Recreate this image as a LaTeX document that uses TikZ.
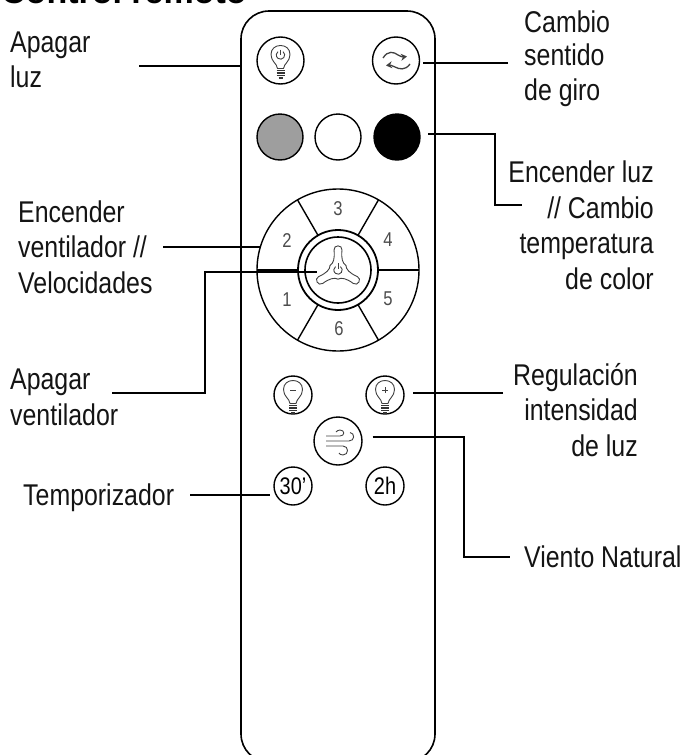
\documentclass[tikz,border=0pt]{standalone}
\usepackage{fontspec}
\usetikzlibrary{arrows.meta}
\setmainfont[FakeStretch=0.83]{Liberation Sans}
\newfontfamily\titlefont[BoldFont={Liberation Sans Bold}]{Liberation Sans}
\tikzset{
  btn/.style={circle, draw, line width=1.4pt, minimum size=#1, inner sep=0pt, outer sep=0pt},
  swatch/.style={btn=46pt},
  leader/.style={line width=2.4pt},
  lbl/.style={font=\fontsize{30}{35.5}\selectfont, inner sep=0pt, text=black!92},
  icon/.style={line width=0.9pt, draw=black!75},
  num/.style={font=\fontsize{20}{20}\selectfont, inner sep=0pt, text=black!70},
  timer/.style={btn=38pt, font=\fontsize{24}{24}\selectfont},
  pics/bulbicon/.style={code={
    \draw[icon] (-3,8) .. controls (-3.5,3) and (-9.5,1) .. (-9.5,-6)
      .. controls (-9.5,-12) and (-5,-15) .. (0,-15)
      .. controls (5,-15) and (9.5,-12) .. (9.5,-6)
      .. controls (9.5,1) and (3.5,3) .. (3,8) -- cycle;
    \foreach \ty in {10,12.5,15}
      \draw[line width=1.5pt, black!80] (-4,\ty) -- (4,\ty);
    \draw[line width=1.5pt, black!80] (-2,17.5) -- (2,17.5);
  }},
}
\begin{document}
\begin{tikzpicture}[x=1pt,y=-1pt]
\useasboundingbox (0,0) rectangle (683,755);
% title
\node[anchor=base west, inner sep=0pt, font=\titlefont\fontsize{34}{34}\selectfont\bfseries] (title) at (1,3.5) {Control remoto};
% body
\node[draw, line width=1.6pt, rounded corners=28pt, minimum width=194pt, minimum height=751pt, inner sep=0pt] (body) at (338,386.5) {};
% top buttons
\node[btn=47pt] (btnLuz) at (280.5,60.5) {};
\node[btn=47pt] (btnGiro) at (396,60.5) {};
\node[swatch, fill=black!38] (colGray) at (280,137) {};
\node[swatch] (colWhite) at (338,137) {};
\node[swatch, fill=black] (colBlack) at (397,137) {};
\begin{scope}[shift={(280.5,60.5)}, scale=0.9]
  \pic {bulbicon};
\end{scope}
\draw[icon] (280.5,55) ++(-52:4.2) arc (-52:232:4.2);
\draw[icon] (280.5,49.5) -- (280.5,55);
% giro arrows
\draw[icon, line width=1.3pt, -{Stealth[length=6pt,width=7pt]}] (383,58) .. controls (388,50) and (394,52) .. (398,55) .. controls (400,56.5) and (403,57) .. (407,56.5);
\draw[icon, line width=1.3pt, -{Stealth[length=6pt,width=7pt]}] (410,64) .. controls (405,71) and (399,69) .. (395,67) .. controls (393,66) and (390,65) .. (386,65.5);
% wheel
\node[btn=162pt] (wheelOuter) at (338,270) {};
\node[btn=80pt, line width=1.8pt] (wheelRing) at (338,270) {};
\node[btn=66pt, line width=1.6pt] (wheelInner) at (338,270) {};
\foreach \ang in {60,120,240,300}
  \draw[line width=1.4pt] (wheelRing.\ang) -- (wheelOuter.\ang);
\draw[line width=1.8pt] (wheelRing.0) -- (wheelOuter.0);
\draw[line width=1.4pt] (wheelRing.180) -- (wheelOuter.180);
\node[num] (n3) at (338,209) {3};
\node[num] (n4) at (388,240) {4};
\node[num] (n5) at (388,299) {5};
\node[num] (n6) at (339,329) {6};
\node[num] (n1) at (287,300) {1};
\node[num] (n2) at (287,241) {2};
% fan
\foreach \rot in {0,120,240}
  \draw[icon, rotate around={\rot:(338,270)}] (330,265.5)
    .. controls (333.5,263.5) and (335,258) .. (334,250)
    .. controls (333.5,244.5) and (342.5,244.5) .. (342,250)
    .. controls (341,258) and (342.5,263.5) .. (346,265.5);
\draw[icon] (338,270) ++(-55:4.2) arc (-55:235:4.2);
\draw[icon] (338,263) -- (338,269);
% lower buttons
\node[btn=38pt] (btnMenos) at (293,395) {};
\node[btn=38pt] (btnMas) at (385,395) {};
\node[btn=48pt] (btnViento) at (338,441) {};
\node[timer] (btn30) at (293,486) {30'};
\node[timer] (btn2h) at (385,486) {2h};
\begin{scope}[shift={(293,395.5)}, scale=0.83]
  \pic {bulbicon};
  \draw[icon] (-3.5,-6.5) -- (3.5,-6.5);
\end{scope}
\begin{scope}[shift={(385,395.5)}, scale=0.83]
  \pic {bulbicon};
  \draw[icon] (-3.5,-6.5) -- (3.5,-6.5);
  \draw[icon] (0,-10) -- (0,-3);
\end{scope}
% wind
\draw[icon] (326,436) -- (340,436) .. controls (345,436) and (345,430) .. (340,430) .. controls (338,430) and (337,431) .. (336,432);
\draw[icon] (326,441) -- (349,441) .. controls (355,441) and (355,433) .. (350,432.5);
\draw[icon] (326,446) -- (343,446) .. controls (349,446) and (349,455) .. (343,455) .. controls (341,455) and (339,454) .. (339,453);
% labels
\node[lbl, anchor=base west, align=left] (txtLuz) at (10,87) {Apagar\\[-1pt]luz};
\node[lbl, anchor=base west, align=left] (txtGiro) at (524,100) {Cambio\\[-2pt]sentido\\[-1pt]de giro};
\node[lbl, anchor=base east, align=right] (txtColor) at (654,289) {Encender luz\\// Cambio\\temperatura\\de color};
\node[lbl, anchor=base west, align=left] (txtVel) at (18,293) {Encender\\ventilador //\\Velocidades};
\node[lbl, anchor=base west, align=left] (txtOff) at (10,425) {Apagar\\ventilador};
\node[lbl, anchor=base east, align=right] (txtReg) at (638,456) {Regulación\\intensidad\\de luz};
\node[lbl, anchor=base west] (txtNat) at (524,567) {Viento Natural};
\node[lbl, anchor=base west] (txtTemp) at (23,505) {Temporizador};
% leaders
\coordinate (endLuz) at (139,66);
\coordinate (endGiro) at (508,63);
\coordinate (elbowColor) at (495,134);
\coordinate (endColor) at (522,205);
\coordinate (endVel) at (163,247);
\coordinate (endOff) at (112,393);
\coordinate (endFan) at (317,272);
\coordinate (endReg) at (503,393);
\coordinate (elbowNat) at (464,437);
\coordinate (endNat) at (510,557);
\coordinate (endTemp) at (190,495);
\draw[leader] (endLuz) -- (endLuz -| body.west);
\draw[leader] (endGiro) -- ([xshift=3.5pt]endGiro -| btnGiro.east);
\draw[leader] ([xshift=8pt]elbowColor -| colBlack.east) -- (elbowColor) |- (endColor);
\draw[leader] (endVel) -- (endVel -| wheelOuter.163.5);
\draw[leader] (endOff) -| (205,272) -- (endFan);
\draw[leader] (endReg) -- ([xshift=9pt]endReg -| btnMas.east);
\draw[leader] ([xshift=10.7pt]elbowNat -| btnViento.east) -- (elbowNat) |- (endNat);
\draw[leader] (endTemp) -- ([xshift=-4pt]endTemp -| btn30.west);
\end{tikzpicture}
\end{document}
